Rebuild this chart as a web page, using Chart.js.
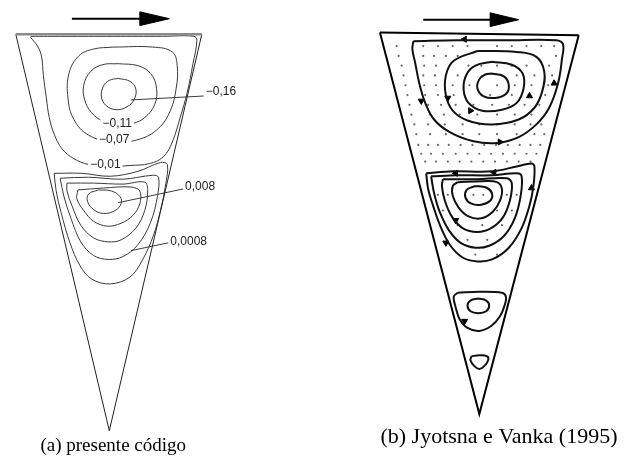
<!DOCTYPE html>
<html lang="pt">
<head>
    <meta charset="UTF-8">
    <title>Linhas de corrente - cavidade triangular</title>
    <script src="https://cdn.jsdelivr.net/npm/chart.js"></script>
    <style>
        body { margin: 0; background: #fff; }
        .wrap { width: 627px; height: 468px; position: relative; }
    </style>
</head>
<body>
<div class="wrap"><canvas id="stream"></canvas></div>
<script>
    // everything is in picture units: x to the right, y downward

    // (a) present code: walls, lid, moving-lid arrow
    const wallA = [[11,30],[106,435],[200,30]];
    const lidA = [[11,30],[200,30]];
    const arrowShaftA = [[68,14],[140,14]];
    const arrowHeadA = [[137,7],[167,14],[137,21],[137,7]];

    // (a) upper eddy, psi < 0
    const psiM001 = [[26,32],[60,32],[110,32],[160,32],[192,32],[195,36],[191,60],[185,90],[178,115],[170,140],[161,155],[147,162],[127,164],[105,165],[85,163],[70,157],[58,147],[50,132],[45,115],[42,95],[39,72],[37,52],[33,42],[26,33]];
    const psiM007 = [[110,43],[150,43],[170,48],[175,62],[174,85],[168,108],[156,126],[137,137],[110,140],[85,133],[70,117],[64,95],[65,70],[75,52],[90,45],[110,43]];
    const psiM011 = [[115,60],[135,62],[148,70],[154,85],[152,102],[142,115],[130,121],[115,123],[100,119],[88,110],[81,97],[80,82],[87,68],[99,61],[115,60]];
    const psiM016 = [[115,75],[127,78],[133,86],[131,97],[124,104],[113,107],[103,103],[98,94],[100,83],[106,77],[115,75]];

    // (a) lower eddy, psi > 0 (outer to inner)
    const lowA1 = [[50,172],[78,172],[107,175],[135,170],[158,161],[165,163],[163,185],[158,210],[151,235],[140,260],[127,278],[107,285],[88,280],[76,266],[66,243],[57,212],[52,190],[50,172]];
    const lowA2 = [[56,177],[85,176],[120,178],[150,174],[156,176],[155,195],[148,222],[135,245],[120,257],[105,260],[90,256],[77,242],[67,218],[60,196],[56,177]];
    const lowA3 = [[63,182],[90,182],[120,183],[142,181],[145,190],[142,210],[133,228],[118,240],[105,242],[90,238],[77,225],[68,205],[63,190],[63,182]];
    const lowA4 = [[74,189],[100,187],[128,186],[137,190],[137,203],[130,215],[118,223],[104,226],[90,221],[80,210],[73,198],[74,189]];
    const lowA5 = [[95,189],[108,190],[117,196],[118,203],[112,210],[100,213],[90,209],[84,201],[85,193],[95,189]];

    // (a) contour labels and leader lines
    const labelText = ['\u22120,16', '\u22120,11', '\u22120,07', '\u22120,01', '0,008', '0,0008'];
    const labelX = [204, 114, 111, 102, 183, 168];
    const labelY = [89, 121, 138, 163, 186, 242];
    const labelOnLine = [false, true, true, true, false, false];
    const leaderM016 = [[128,97],[202,93]];
    const leader008 = [[115,202],[181,188]];
    const leader0008 = [[128,251],[166,243]];

    // (b) Jyotsna e Vanka (1995)
    const wallB = [[381,28],[482,418],[583,31]];
    const lidB = [[381,28],[583,31]];
    const arrowShaftB = [[425,15],[495,15]];
    const arrowHeadB = [[493,8],[522,15],[493,22],[493,8]];

    const upB1 = [[415,37],[460,36],[510,36],[560,36],[567,40],[566,55],[562,80],[553,105],[540,122],[522,135],[500,141],[475,139],[452,130],[436,117],[427,100],[421,80],[417,60],[414,45],[415,37]];
    const upB2 = [[480,47],[520,48],[540,53],[548,68],[546,88],[538,105],[522,117],[495,122],[470,118],[455,108],[448,92],[448,72],[456,57],[480,47]];
    const upB3 = [[495,58],[515,61],[526,70],[527,85],[520,100],[505,107],[485,108],[471,100],[466,86],[469,71],[478,62],[495,58]];
    const upB4 = [[495,70],[507,73],[512,82],[509,91],[498,95],[486,93],[480,85],[482,76],[488,71],[495,70]];

    const lowB1 = [[428,172],[455,170],[495,170],[520,165],[535,162],[538,165],[537,185],[533,205],[525,228],[512,248],[495,260],[480,262],[465,258],[452,245],[442,225],[435,205],[430,188],[428,172]];
    const lowB2 = [[433,175],[460,174],[495,174],[520,172],[525,175],[524,195],[518,218],[507,236],[492,246],[478,248],[463,243],[451,230],[442,212],[436,192],[433,175]];
    const lowB3 = [[445,178],[480,178],[510,177],[515,182],[513,200],[506,217],[494,228],[480,232],[465,228],[454,216],[447,200],[444,185],[445,178]];
    const lowB4 = [[460,181],[485,180],[500,181],[505,188],[503,200],[496,211],[484,218],[471,216],[461,207],[455,195],[455,185],[460,181]];
    const lowB5 = [[480,185],[490,187],[495,193],[493,200],[484,204],[474,203],[468,197],[469,189],[475,186],[480,185]];

    const tipB1 = [[460,294],[482,293],[505,294],[509,298],[508,306],[503,318],[494,328],[482,333],[470,330],[462,321],[458,309],[456,298],[460,294]];
    const tipB2 = [[481,300],[489,302],[492,307],[489,313],[481,315],[473,313],[470,307],[473,302],[481,300]];
    const tipB3 = [[474,359],[482,358],[490,359],[491,363],[487,369],[482,372],[477,369],[473,363],[474,359]];

    // flow direction marks on the streamlines of (b)
    const flowMarks = [[467,35],[423,98],[450,95],[473,108],[533,93],[558,80],[503,140],[497,171],[458,172],[535,187],[458,220],[448,243],[467,323]];
    const flowTurn = [-90, 180, 180, 90, 0, 0, 90, -90, -90, 0, 180, 180, 180];

    // velocity vector dots of (b), row by row: [y, x list]
    const dotRows = [
        [42, [398, 425, 440, 455, 470, 500, 515, 530, 545, 558]],
        [52, [400, 425, 436, 448, 460, 560]],
        [62, [403, 426, 438, 471, 484, 500, 515, 530, 553]],
        [72, [405, 425, 437, 460, 520, 538, 556]],
        [82, [407, 426, 438, 455, 472, 500, 518, 535, 552]],
        [92, [409, 427, 440, 456, 493, 515, 532, 549]],
        [102, [411, 430, 443, 458, 476, 495, 512, 528, 543]],
        [112, [413, 432, 446, 462, 480, 500, 518, 535]],
        [122, [416, 430, 447, 465, 482, 500, 518, 534, 545]],
        [132, [418, 432, 448, 465, 482, 500, 520, 538, 548]],
        [143, [420, 430, 440, 451, 463, 475, 487, 499, 511, 523, 534, 544]],
        [152, [423, 433, 445, 458, 470, 482, 494, 506, 518, 530, 540]],
        [160, [427, 438, 450, 462, 474, 486, 498, 510, 522, 534]],
        [194, [440, 450, 476, 486, 510, 520]],
        [210, [445, 500, 515]],
        [225, [460, 485, 505]],
        [240, [470, 490]],
        [255, [478, 500]]
    ];

    const captionText = ['(a) presente c\u00f3digo', '(b) Jyotsna e Vanka (1995)'];
    const captionX = [110, 502];
    const captionY = [451, 442];
    const captionSize = [19, 22];

    // ---- datasets ----
    function pts(list) {
        return list.map(p => ({ x: p[0], y: p[1] }));
    }
    function line(list, color, width, tension) {
        return {
            data: pts(list), showLine: true, borderColor: color, borderWidth: width,
            pointRadius: 0, tension: tension, fill: false, clip: false
        };
    }
    function solid(list) {
        return {
            data: pts(list), showLine: true, borderColor: '#000', backgroundColor: '#000',
            borderWidth: 1, pointRadius: 0, tension: 0, fill: 'shape', clip: false
        };
    }

    const grayA = '#3a3a3a';
    const datasets = [
        line(lidA, '#8a8a8a', 2.5, 0),
        line(wallA, '#222', 1, 0),
        line(arrowShaftA, '#000', 2, 0),
        solid(arrowHeadA),
        line(psiM001, grayA, 1, 0.4),
        line(psiM007, grayA, 1, 0.4),
        line(psiM011, grayA, 1, 0.4),
        line(psiM016, grayA, 1, 0.4),
        line(lowA1, grayA, 1, 0.35),
        line(lowA2, grayA, 1, 0.35),
        line(lowA3, grayA, 1, 0.35),
        line(lowA4, grayA, 1, 0.35),
        line(lowA5, grayA, 1, 0.4),
        line(leaderM016, grayA, 1, 0),
        line(leader008, grayA, 1, 0),
        line(leader0008, grayA, 1, 0),

        line(lidB, '#000', 2, 0),
        line(wallB, '#000', 2, 0),
        line(arrowShaftB, '#000', 2, 0),
        solid(arrowHeadB),
        line(upB1, '#111', 2, 0.4),
        line(upB2, '#111', 2, 0.4),
        line(upB3, '#111', 2, 0.4),
        line(upB4, '#111', 2, 0.4),
        line(lowB1, '#111', 2, 0.35),
        line(lowB2, '#111', 2, 0.35),
        line(lowB3, '#111', 2, 0.35),
        line(lowB4, '#111', 2, 0.35),
        line(lowB5, '#111', 2, 0.4),
        line(tipB1, '#111', 2, 0.35),
        line(tipB2, '#111', 2, 0.4),
        line(tipB3, '#111', 2, 0.4),
        {
            data: pts(flowMarks), showLine: false, pointStyle: 'triangle',
            pointRadius: 3.5, pointRotation: flowTurn,
            pointBackgroundColor: '#000', pointBorderColor: '#000', clip: false
        },
        {
            data: dotRows.flatMap(r => r[1].map(x => ({ x: x, y: r[0] }))),
            showLine: false, pointRadius: 1.1, pointBorderWidth: 0,
            pointBackgroundColor: '#666', clip: false
        }
    ];

    // contour labels and captions, placed through the chart scales
    const textPlugin = {
        id: 'texts',
        afterDatasetsDraw(chart) {
            const c = chart.ctx;
            const sx = chart.scales.x, sy = chart.scales.y;
            c.save();
            c.font = '12px "Liberation Sans", Arial, sans-serif';
            c.textBaseline = 'middle';
            labelText.forEach((t, i) => {
                const px = sx.getPixelForValue(labelX[i]);
                const py = sy.getPixelForValue(labelY[i]);
                const w = c.measureText(t).width;
                if (labelOnLine[i]) {
                    c.fillStyle = '#fff';
                    c.fillRect(px - w / 2 - 2, py - 6, w + 4, 12);
                    c.textAlign = 'center';
                } else {
                    c.textAlign = 'left';
                }
                c.fillStyle = '#222';
                c.fillText(t, px, py);
            });
            c.textAlign = 'center';
            c.fillStyle = '#000';
            captionText.forEach((t, i) => {
                c.font = captionSize[i] + 'px "Liberation Serif", "Times New Roman", serif';
                c.fillText(t, sx.getPixelForValue(captionX[i]), sy.getPixelForValue(captionY[i]));
            });
            c.restore();
        }
    };

    new Chart(document.getElementById('stream'), {
        type: 'scatter',
        data: { datasets: datasets },
        options: {
            responsive: true,
            maintainAspectRatio: false,
            animation: false,
            layout: { padding: 0 },
            scales: {
                x: { type: 'linear', min: 0, max: 627, display: false },
                y: { type: 'linear', min: 0, max: 468, reverse: true, display: false }
            },
            plugins: {
                legend: { display: false },
                tooltip: { enabled: false }
            }
        },
        plugins: [textPlugin]
    });
</script>
</body>
</html>
